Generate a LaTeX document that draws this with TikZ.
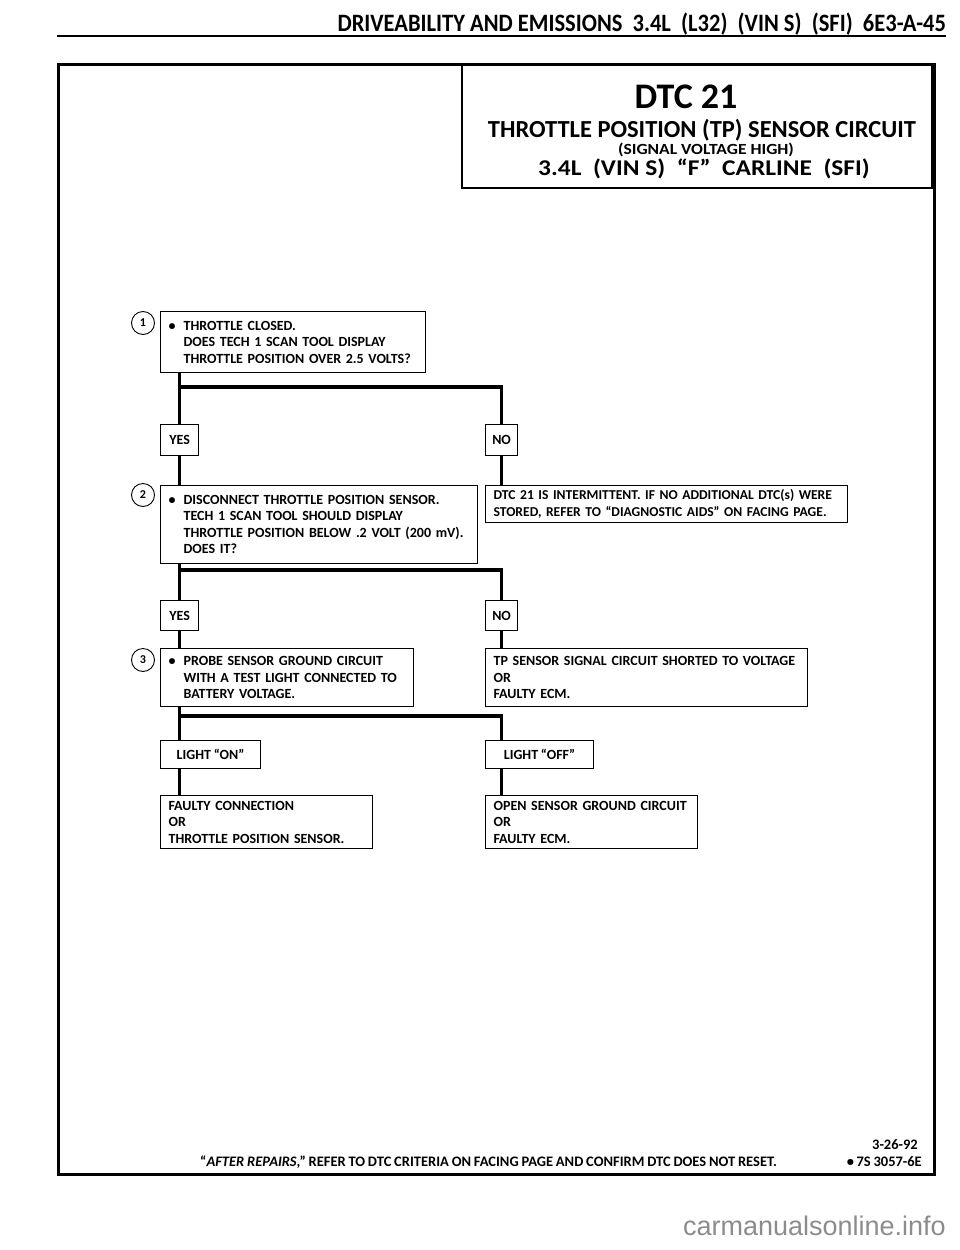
\documentclass[tikz,border=0pt]{standalone}
\usepackage{fontspec}
\setmainfont{Carlito}[WordSpace=0.85]
\newfontfamily\hdrfont{Carlito}[FakeStretch=0.9]
\newfontfamily\ttlfont{Carlito}
\newfontfamily\widefont{Carlito}[FakeStretch=1.13]
\newfontfamily\wmfont{Liberation Sans}
\usetikzlibrary{positioning}
\newcommand{\bul}{\makebox[15pt][l]{\textbullet}}
\newcommand{\ind}{\hspace*{15pt}}
\tikzset{
  box/.style={draw, line width=1.2pt, rectangle, anchor=north west, inner xsep=8pt, inner ysep=0pt,
    align=left, font=\bfseries\fontsize{14}{16.5}\selectfont},
  lbl/.style={draw, line width=1.2pt, rectangle, anchor=north west, inner sep=0pt,
    font=\bfseries\fontsize{14}{16}\selectfont},
  numc/.style={draw, circle, line width=0.9pt, minimum size=23pt, inner sep=0pt,
    font=\bfseries\fontsize{12}{12}\selectfont},
  conn/.style={line width=3.6pt},
  frame/.style={line width=2.6pt},
  ttl/.style={anchor=base, inner sep=0pt},
  foot/.style={inner sep=0pt, font=\bfseries\fontsize{14.5}{14.5}\selectfont},
}
\begin{document}
\begin{tikzpicture}[x=1pt,y=-1pt]
\useasboundingbox (0,0) rectangle (960,1250);
% header
\node[anchor=base east, inner sep=0pt, font=\hdrfont\bfseries\fontsize{25}{25}\selectfont] (hdr) at (946,31)
  {DRIVEABILITY AND EMISSIONS\ \ 3.4L\ \ (L32)\ \ (VIN S)\ \ (SFI)\ \ 6E3-A-45};
\coordinate (rl) at (57,36);
\coordinate (rr) at (946,36);
\draw[line width=2.4pt] (rl) -- (rr);
% outer frame
\node[draw, frame, rectangle, anchor=north west, minimum width=876pt, minimum height=1110pt, inner sep=0pt] (frm) at (57,63) {};
% title box
\node[draw, line width=1.6pt, rectangle, anchor=north east, minimum width=470pt, minimum height=124pt, inner sep=0pt] (tbox) at (933,63) {};
\node[ttl, font=\ttlfont\bfseries\fontsize{36}{36}\selectfont] (t1) at (686,108) {DTC 21};
\node[ttl, font=\ttlfont\bfseries\fontsize{24.5}{24.5}\selectfont] (t2) at (702,137) {THROTTLE POSITION (TP) SENSOR CIRCUIT};
\node[ttl, font=\widefont\bfseries\fontsize{15.5}{15.5}\selectfont] (t3) at (706,154.5) {(SIGNAL VOLTAGE HIGH)};
\node[ttl, font=\widefont\bfseries\fontsize{22.5}{22.5}\selectfont] (t4) at (704,175) {3.4L\ \ (VIN S)\ \ “F”\ \ CARLINE\ \ (SFI)};
% step 1
\node[numc] (n1) at (143,323) {1};
\node[box, minimum width=265pt, minimum height=61pt, text width=249pt] (b1) at (160,311)
  {\bul THROTTLE CLOSED.\\ \ind DOES TECH 1 SCAN TOOL DISPLAY\\ \ind \mbox{THROTTLE POSITION OVER 2.5 VOLTS?}};
\node[lbl, minimum width=38pt, minimum height=31pt] (y1) at (160,424) {YES};
\node[lbl, minimum width=32pt, minimum height=31pt] (no1) at (485,424) {NO};
\coordinate (j1) at (179,387);
% step 2
\node[numc] (n2) at (143,495) {2};
\node[box, minimum width=317pt, minimum height=78pt, text width=301pt] (b2) at (160,485)
  {\bul \mbox{DISCONNECT THROTTLE POSITION SENSOR.}\\ \ind TECH 1 SCAN TOOL SHOULD DISPLAY\\ \ind \mbox{THROTTLE POSITION BELOW .2 VOLT (200 mV).}\\ \ind DOES IT?};
\node[box, minimum width=362pt, minimum height=37pt, text width=346pt, font=\bfseries\fontsize{13.6}{16.5}\selectfont] (b2r) at (485,485)
  {\mbox{DTC 21 IS INTERMITTENT.\ IF NO ADDITIONAL DTC(s) WERE}\\ \mbox{STORED, REFER TO “DIAGNOSTIC AIDS” ON FACING PAGE.}};
\node[lbl, minimum width=38pt, minimum height=30pt] (y2) at (160,600) {YES};
\node[lbl, minimum width=32pt, minimum height=30pt] (no2) at (485,600) {NO};
\coordinate (j2) at (179,570);
% step 3
\node[numc] (n3) at (143,660) {3};
\node[box, minimum width=253pt, minimum height=58pt, text width=237pt] (b3) at (160,648)
  {\bul PROBE SENSOR GROUND CIRCUIT\\ \ind \mbox{WITH A TEST LIGHT CONNECTED TO}\\ \ind BATTERY VOLTAGE.};
\node[box, minimum width=322pt, minimum height=58pt, text width=306pt] (b3r) at (485,648)
  {\mbox{TP SENSOR SIGNAL CIRCUIT SHORTED TO VOLTAGE}\\ OR\\ FAULTY ECM.};
\node[lbl, minimum width=100pt, minimum height=28pt] (on) at (160,740) {LIGHT “ON”};
\node[lbl, minimum width=108pt, minimum height=28pt] (off) at (485,740) {LIGHT “OFF”};
\coordinate (j3) at (179,716);
% results
\node[box, minimum width=212pt, minimum height=53pt, text width=196pt] (rL) at (160,795)
  {FAULTY CONNECTION\\ OR\\ \mbox{THROTTLE POSITION SENSOR.}};
\node[box, minimum width=212pt, minimum height=53pt, text width=196pt] (rR) at (485,795)
  {\mbox{OPEN SENSOR GROUND CIRCUIT}\\ OR\\ FAULTY ECM.};
% connectors
\draw[conn] (y1.north |- b1.south) -- (y1.north);
\draw[conn] (y1.north |- j1) -| (no1.north);
\draw[conn] (y1.south) -- (y1.south |- b2.north);
\draw[conn] (no1.south) -- (no1.south |- b2r.north);
\draw[conn] (y2.north |- b2.south) -- (y2.north);
\draw[conn] (y2.north |- j2) -| (no2.north);
\draw[conn] (y2.south) -- (y2.south |- b3.north);
\draw[conn] (no2.south) -- (no2.south |- b3r.north);
\draw[conn] (y2.north |- b3.south) -- (on.north -| y2.north);
\draw[conn] (y2.north |- j3) -| (off.north -| no2.north);
\draw[conn] (on.south -| y2.north) -- (rL.north -| y2.north);
\draw[conn] (off.south -| no2.north) -- (rR.north -| no2.north);
% footer
\node[foot, anchor=base east] (d1) at (918,1149) {3-26-92};
\node[foot, anchor=base east] (d2) at (922,1166) {\textbullet\,7S 3057-6E};
\node[foot, anchor=base west] (ft) at (200,1166)
  {“\textit{AFTER REPAIRS},” REFER TO DTC CRITERIA ON FACING PAGE AND CONFIRM DTC DOES NOT RESET.};
% watermark
\node[anchor=base east, inner sep=0pt, text=black!45, font=\wmfont\fontsize{27}{27}\selectfont] (wm) at (946,1235) {carmanualsonline.info};
\end{tikzpicture}
\end{document}
